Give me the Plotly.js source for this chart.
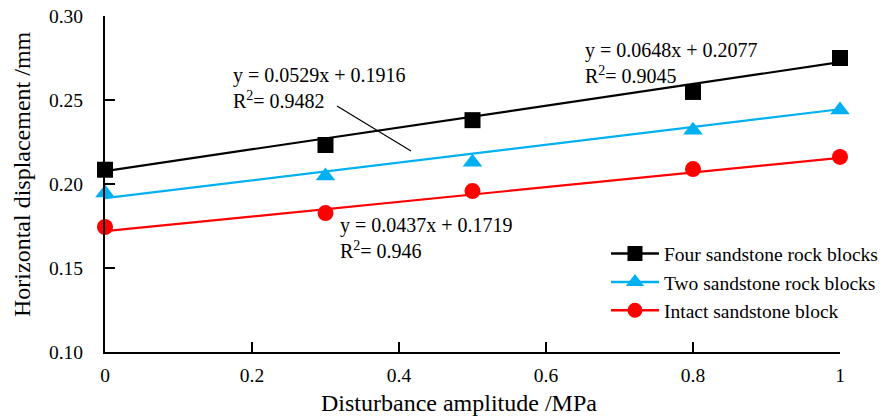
<!DOCTYPE html>
<html><head><meta charset="utf-8">
<script src="https://cdn.plot.ly/plotly-3.0.1.min.js"></script>
<style>html,body{margin:0;padding:0;background:#fff}#c{width:890px;height:419px}</style>
</head><body><div id="c"></div>
<script>
const xVals = [0, 0.3, 0.5, 0.8, 1];
const fourBlocks = [0.2085, 0.2232, 0.2380, 0.2548, 0.2750];
const twoBlocks = [0.1946, 0.2048, 0.2130, 0.2320, 0.2440];
const intactBlock = [0.1744, 0.1827, 0.1958, 0.2089, 0.2161];
const seriesNames = ['Four sandstone rock blocks', 'Two sandstone rock blocks', 'Intact sandstone block'];
const slopes = [0.0648, 0.0529, 0.0437];
const intercepts = [0.2077, 0.1916, 0.1719];
const r2 = ['0.9045', '0.9482', '0.946'];
const yTicks = [0.10, 0.15, 0.20, 0.25, 0.30];
const xTicks = [0, 0.2, 0.4, 0.6, 0.8, 1];
const xTitle = 'Disturbance amplitude /MPa';
const yTitle = 'Horizontal displacement /mm';

const colors = ['#000000', '#00B0F0', '#FF0000'];
const symbols = ['square', 'triangle-up', 'circle'];
const ys = [fourBlocks, twoBlocks, intactBlock];
const fitX = [0, 1];
const traces = [];
for (let i = 0; i < 3; i++) {
  traces.push({x: fitX, y: fitX.map(v => slopes[i] * v + intercepts[i]), mode: 'lines',
    line: {color: colors[i], width: 2.2}, showlegend: false, hoverinfo: 'skip', cliponaxis: false});
}
for (let i = 0; i < 3; i++) {
  traces.push({x: xVals, y: ys[i], mode: 'markers', name: seriesNames[i], showlegend: false,
    marker: {color: colors[i], symbol: symbols[i], size: symbols[i] === 'triangle-up' ? 17 : 16}, cliponaxis: false});
}
for (let i = 0; i < 3; i++) {
  traces.push({x: [null], y: [null], mode: 'lines+markers', name: seriesNames[i],
    line: {color: colors[i], width: 2.5},
    marker: {color: colors[i], symbol: symbols[i], size: symbols[i] === 'triangle-up' ? 16 : 15}});
}
function eq(i) {
  return 'y = ' + slopes[i].toFixed(4) + 'x + ' + intercepts[i].toFixed(4) + '<br>R<sup>2</sup>= ' + r2[i];
}
const font = 'Liberation Serif, Times New Roman, serif';
const annFont = {family: font, size: 20, color: '#000'};
function py(p) { return 0.10 + (352 - p) / 84 * 0.05; }
function px(p) { return (p - 105) / 735; }
const layout = {
  width: 890, height: 419,
  margin: {l: 105, r: 50, t: 16, b: 67, autoexpand: false},
  paper_bgcolor: '#fff', plot_bgcolor: '#fff',
  font: {family: font, size: 19.5, color: '#000'},
  showlegend: true,
  legend: {x: 0.6816, y: 0.35, xanchor: 'left', yanchor: 'top', bgcolor: 'rgba(0,0,0,0)',
    font: {family: font, size: 19.5, color: '#000'}, tracegroupgap: 0, itemwidth: 48},
  xaxis: {range: [0, 1], tickvals: xTicks, ticktext: xTicks.map(String), ticks: 'inside', ticklen: 10,
    tickwidth: 1.5, tickcolor: '#000', showline: true, linecolor: '#000', linewidth: 2, showgrid: false,
    zeroline: false, ticklabelstandoff: 5, tickfont: {family: font, size: 19.5}},
  yaxis: {range: [0.10, 0.30], tickvals: yTicks, ticktext: yTicks.map(v => v.toFixed(2)), ticks: 'inside', ticklen: 10,
    tickwidth: 1.5, tickcolor: '#000', showline: true, linecolor: '#000', linewidth: 2, showgrid: false,
    zeroline: false, ticklabelstandoff: 16, tickfont: {family: font, size: 19.5}},
  annotations: [
    {xref: 'paper', yref: 'paper', x: px(22), y: (352 - 174) / 336, xanchor: 'center', yanchor: 'middle',
      text: yTitle, textangle: -90, showarrow: false, font: {family: font, size: 24}},
    {xref: 'paper', yref: 'paper', x: px(459), y: (352 - 403) / 336, xanchor: 'center', yanchor: 'middle',
      text: xTitle, showarrow: false, font: {family: font, size: 24}},
    {xref: 'x', yref: 'y', x: px(583), y: py(37), xanchor: 'left', yanchor: 'top',
      text: eq(0), showarrow: false, align: 'left', font: annFont},
    {xref: 'x', yref: 'y', x: px(231), y: py(62), xanchor: 'left', yanchor: 'top',
      text: eq(1), showarrow: false, align: 'left', font: annFont},
    {xref: 'x', yref: 'y', x: px(338), y: py(212), xanchor: 'left', yanchor: 'top',
      text: eq(2), showarrow: false, align: 'left', font: annFont}
  ],
  shapes: [
    {type: 'line', xref: 'x', yref: 'y', x0: px(337), y0: py(106), x1: px(411), y1: py(151), line: {color: '#000', width: 1.2}}
  ]
};
Plotly.newPlot('c', traces, layout, {displayModeBar: false, staticPlot: true});
</script></body></html>
